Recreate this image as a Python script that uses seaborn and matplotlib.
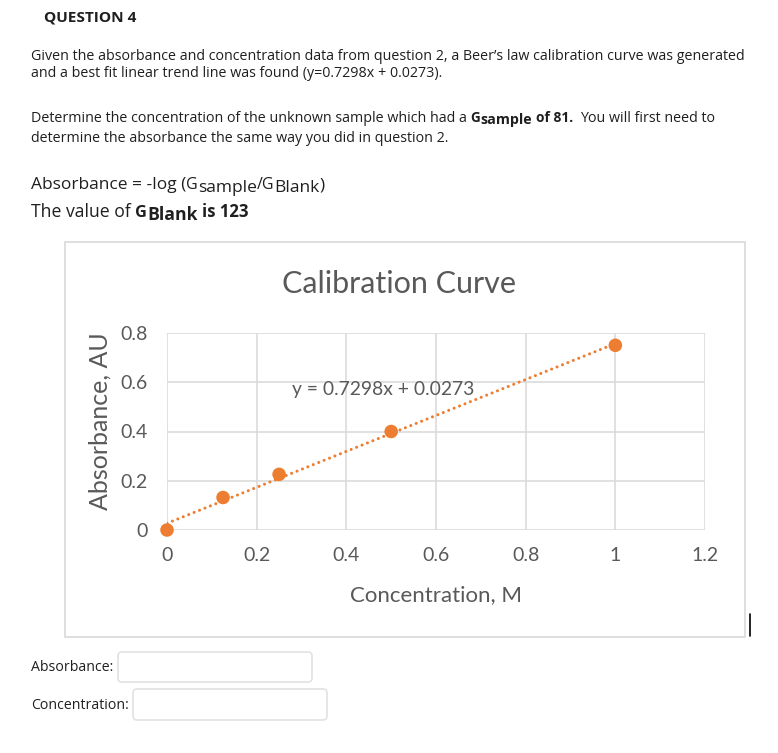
import numpy as np
import pandas as pd
import matplotlib
matplotlib.use("Agg")
import matplotlib.pyplot as plt
import seaborn as sns
from matplotlib.transforms import IdentityTransform
from matplotlib.patches import FancyBboxPatch, Rectangle
from matplotlib.lines import Line2D

# ---------------- data ----------------
conc = [0.0, 0.125, 0.25, 0.5, 1.0]
absorb = [0.0, 0.132, 0.226, 0.400, 0.750]
slope = 0.7298
intercept = 0.0273
x_ticks = [0, 0.2, 0.4, 0.6, 0.8, 1.0, 1.2]
x_tick_labels = ["0", "0.2", "0.4", "0.6", "0.8", "1", "1.2"]
y_ticks = [0, 0.2, 0.4, 0.6, 0.8]
y_tick_labels = ["0", "0.2", "0.4", "0.6", "0.8"]
chart_title = "Calibration Curve"
x_label = "Concentration, M"
y_label = "Absorbance, AU"
equation = "y = 0.7298x + 0.0273"

W, H = 778, 753
ORANGE = "#ED7D31"
GREY = "#595959"
TXT = "#1f1f1f"
PAGE_FONT = ["Open Sans", "DejaVu Sans"]
CHART_FONT = ["Lato", "DejaVu Sans"]

sns.set_theme(style="white")
plt.rcParams["font.family"] = PAGE_FONT
fig = plt.figure(figsize=(W / 100, H / 100), dpi=100)
fig.patch.set_facecolor("white")
renderer = fig.canvas.get_renderer()


def px(x, y):
    return x / W, 1 - y / H


def width_of(t):
    return t.get_window_extent(renderer).width


def fit_size(text, target, weight="normal", family=PAGE_FONT):
    t = fig.text(0, 0, text, fontsize=10, fontweight=weight, family=family)
    w = width_of(t)
    t.remove()
    return 10 * target / w


def space_w(size, weight, family):
    a = fig.text(0, 0, "x x", fontsize=size, fontweight=weight, family=family)
    b = fig.text(0, 0, "xx", fontsize=size, fontweight=weight, family=family)
    w = width_of(a) - width_of(b)
    a.remove()
    b.remove()
    return w


def chain(x, y, parts, size, target=None, family=PAGE_FONT, color=TXT):
    """parts: (text, weight, scale, dy) drawn one after another on a baseline."""
    arts = []
    for txt, wt, sc, dy in parts:
        arts.append(fig.text(0, 0, txt.strip(), fontweight=wt, family=family,
                             color=color, va="baseline", ha="left"))

    def layout(sz):
        cx = x
        for t, (txt, wt, sc, dy) in zip(arts, parts):
            fsz = sz * sc
            sw = space_w(fsz, wt, family)
            ls = len(txt) - len(txt.lstrip())
            ts = len(txt) - len(txt.rstrip())
            cx += ls * sw
            t.set_fontsize(fsz)
            t.set_position(px(cx, y + dy))
            cx += width_of(t) + ts * sw
        return cx - x

    tot = layout(size)
    if target:
        layout(size * target / tot)
    return arts


# ---------------- page text ----------------
body = fit_size("Given the absorbance and concentration data from question 2, a Beer\u2019s law "
                "calibration curve was generated", 712)

fig.text(*px(44, 21), "QUESTION 4", fontsize=fit_size("QUESTION 4", 92, "bold"),
         fontweight="bold", color=TXT, va="baseline", ha="left")
fig.text(*px(31, 60), "Given the absorbance and concentration data from question 2, a Beer\u2019s law "
         "calibration curve was generated", fontsize=body, color=TXT, va="baseline")
fig.text(*px(31, 77), "and a best fit linear trend line was found (y=0.7298x + 0.0273).",
         fontsize=body, color=TXT, va="baseline")

chain(31, 122, [
    ("Determine the concentration of the unknown sample which had a ", "normal", 1.0, 0),
    ("G", "bold", 0.95, 0),
    ("sample ", "bold", 1.0, 2),
    ("of 81.", "bold", 0.97, 0),
    ("  You will first need to", "normal", 1.0, 0),
], body, target=685)
fig.text(*px(31, 142), "determine the absorbance the same way you did in question 2.",
         fontsize=body, color=TXT, va="baseline")

chain(31, 189, [
    ("Absorbance = -log (", "normal", 1.0, 0),
    ("G", "normal", 0.92, 0),
    ("sample", "normal", 1.0, 3),
    ("/G", "normal", 0.92, 0),
    ("Blank", "normal", 1.0, 3),
    (")", "normal", 1.0, 0),
], 11, target=294)

chain(31, 217, [
    ("The value of ", "normal", 1.0, 0),
    ("G", "bold", 0.92, 0),
    ("Blank", "bold", 1.0, 3),
    (" is 123", "bold", 0.95, 0),
], 11, target=218)

# ---------------- chart frame ----------------
fig.add_artist(Rectangle((65, H - 637), 680, 395, transform=IdentityTransform(),
                         facecolor="white", edgecolor="#D9D9D9", lw=1.2, zorder=0))
fig.add_artist(Line2D([750, 750], [H - 636, H - 614], transform=IdentityTransform(),
                      color="black", lw=1.2))

ax = fig.add_axes([167 / W, 1 - 530 / H, (705 - 167) / W, (530 - 333) / H])
ax.set_facecolor("none")

df = pd.DataFrame({"conc": conc, "absorb": absorb})
line_x = np.array([min(conc), max(conc)])
trend = pd.DataFrame({"conc": line_x, "fit": slope * line_x + intercept})

sns.lineplot(data=trend, x="conc", y="fit", ax=ax, color=ORANGE, lw=2.2,
             linestyle=(0, (0.01, 1.9)), dash_capstyle="round", zorder=3)
sns.scatterplot(data=df, x="conc", y="absorb", ax=ax, color=ORANGE, s=95,
                edgecolor="none", linewidth=0, zorder=5, clip_on=False, legend=False)

ax.set_xlim(0, 1.2)
ax.set_ylim(0, 0.8)
tick_size = fit_size("0.8", 27, family=CHART_FONT)
ax.set_xticks(x_ticks, labels=x_tick_labels)
ax.set_yticks(y_ticks, labels=y_tick_labels)
for lab in ax.get_xticklabels() + ax.get_yticklabels():
    lab.set_family(CHART_FONT)
    lab.set_fontsize(tick_size)
    lab.set_color(GREY)
ax.tick_params(axis="x", length=0, pad=12)
ax.tick_params(axis="y", length=0, pad=14)
ax.grid(True, color="#D9D9D9", lw=1.1)
for s in ax.spines.values():
    s.set_visible(False)
ax.set_xlabel("")
ax.set_ylabel("")

fig.text(*px(399.5, 293), chart_title, family=CHART_FONT, color=GREY, ha="center",
         va="baseline", fontsize=fit_size(chart_title, 235, family=CHART_FONT))
fig.text(*px(292, 395), equation, family=CHART_FONT, color=GREY, ha="left",
         va="baseline", fontsize=fit_size(equation, 181, family=CHART_FONT))
fig.text(*px(436, 601), x_label, family=CHART_FONT, color=GREY, ha="center",
         va="baseline", fontsize=fit_size(x_label, 172, family=CHART_FONT))
fig.text(*px(100, 421), y_label, family=CHART_FONT, color=GREY, ha="center",
         va="center", rotation=90, fontsize=fit_size(y_label, 178, family=CHART_FONT))

# ---------------- answer fields ----------------
fig.text(*px(31, 671), "Absorbance:", fontsize=fit_size("Absorbance:", 82), color=TXT,
         va="baseline")
fig.text(*px(31, 709), "Concentration:", fontsize=fit_size("Concentration:", 97), color=TXT,
         va="baseline")
for (x0, y0, x1, y1) in [(118, 652, 312, 682), (133, 689, 327, 720)]:
    fig.add_artist(FancyBboxPatch((x0, H - y1), x1 - x0, y1 - y0,
                                  boxstyle="round,pad=0,rounding_size=4",
                                  transform=IdentityTransform(), facecolor="white",
                                  edgecolor="#E2E2E2", lw=1.2))

fig.savefig("out.png", dpi=100, facecolor="white")
